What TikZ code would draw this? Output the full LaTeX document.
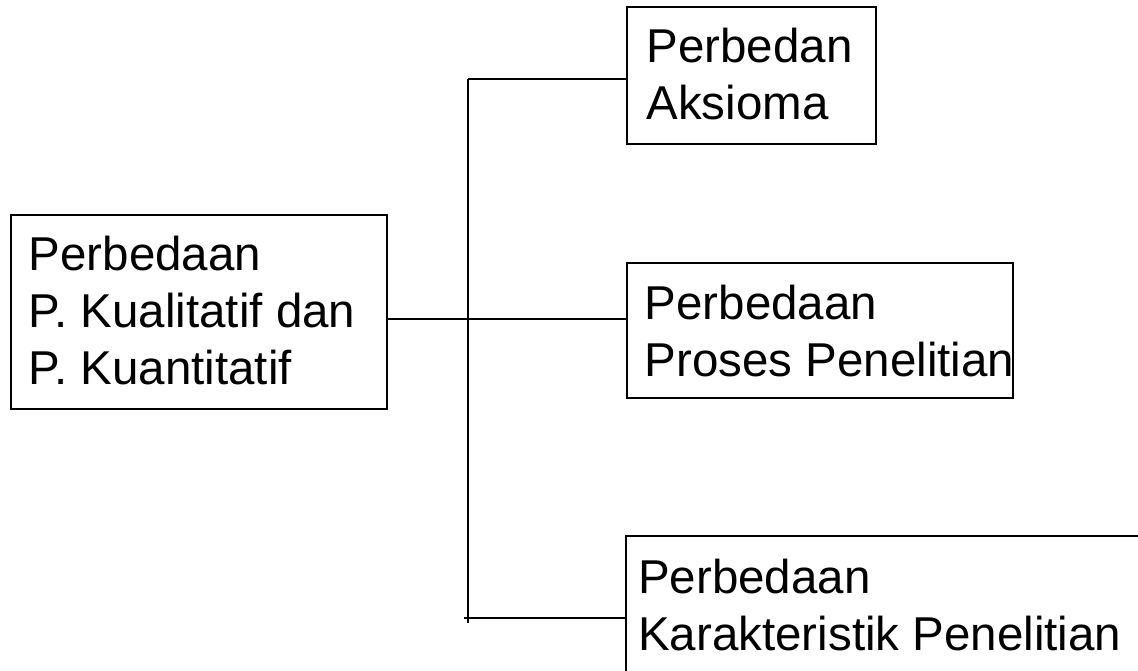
\documentclass[tikz,border=0pt]{standalone}
\usepackage{fontspec}
\setmainfont{Liberation Sans}
\begin{document}
\begin{tikzpicture}[x=1pt,y=1pt,
  box/.style={draw=black, line width=1.5pt, rectangle, inner sep=0pt},
  txt/.style={anchor=base west, inner sep=0pt, align=left,
    font=\fontsize{47.5}{57}\selectfont},
  conn/.style={draw=black, line width=2pt}]
\useasboundingbox (0,0) rectangle (1138,670);
\clip (0,0) rectangle (1138,670);
% boxes
\node[box, minimum width=376pt, minimum height=194pt] (root) at (199,358) {};
\node[box, minimum width=249pt, minimum height=137pt] (b1) at (751.5,594.5) {};
\node[box, minimum width=386pt, minimum height=135pt] (b2) at (820,339.5) {};
\node[box, minimum width=540pt, minimum height=150pt, anchor=north west] (b3) at (625,135) {};
% texts (anchored at the baseline of the last line)
\node[txt] (t0) at (28.6,285) {Perbedaan\\P. Kualitatif dan\\P. Kuantitatif};
\node[txt] (t1) at (646.3,550) {Perbedan\\Aksioma};
\node[txt] (t2) at (644.6,293.3) {Perbedaan\\Proses Penelitian};
\node[txt] (t3) at (638,20) {Perbedaan\\Karakteristik Penelitian};
% connectors
\coordinate (jtop) at (468,591);
\coordinate (jmid) at (468,351);
\coordinate (jbot) at (468,47);
\coordinate (tick) at (464,52);
\draw[conn] (jtop) -- (jbot);
\draw[conn] (jtop) -- (jtop -| b1.west);
\draw[conn] (root.east |- jmid) -- (jmid -| b2.west);
\draw[conn] (tick) -- (tick -| b3.west);
\end{tikzpicture}
\end{document}
